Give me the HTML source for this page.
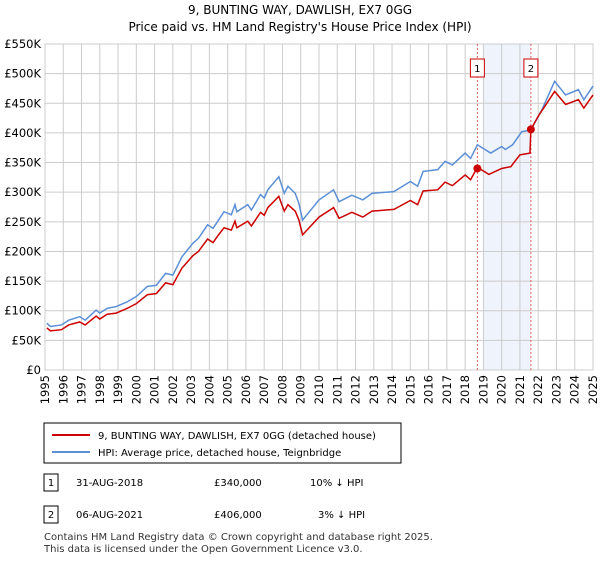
<!DOCTYPE html>
<html><head><meta charset="utf-8"><style>
body{margin:0;background:#fff;font-family:"Liberation Sans","DejaVu Sans",sans-serif;}
svg text{font-family:"DejaVu Sans","Liberation Sans",sans-serif;}
</style></head><body>
<svg width="600" height="560" viewBox="0 0 600 560" xmlns="http://www.w3.org/2000/svg">
<text x="300" y="14" text-anchor="middle" font-size="12" fill="#000">9, BUNTING WAY, DAWLISH, EX7 0GG</text>
<text x="300" y="31" text-anchor="middle" font-size="12" fill="#000">Price paid vs. HM Land Registry's House Price Index (HPI)</text>
<g id="plot"></g>
<g>
<rect x="44" y="423" width="357" height="40" fill="#fff" stroke="#000" stroke-width="1"/>
<line x1="52" y1="435" x2="90" y2="435" stroke="#cc0000" stroke-width="2"/>
<text x="98" y="439" font-size="10">9, BUNTING WAY, DAWLISH, EX7 0GG (detached house)</text>
<line x1="52" y1="452" x2="90" y2="452" stroke="#5b8fd6" stroke-width="2"/>
<text x="98" y="456" font-size="10">HPI: Average price, detached house, Teignbridge</text>
</g>
<g>
<rect x="44" y="474" width="14" height="17" fill="#fff" stroke="#000"/>
<text x="51" y="486" font-size="10" text-anchor="middle">1</text>
<text x="76" y="486" font-size="10">31-AUG-2018</text>
<text x="214" y="486" font-size="10">£340,000</text>
<text x="310" y="486" font-size="10">10% ↓ HPI</text>
<rect x="44" y="506" width="14" height="17" fill="#fff" stroke="#000"/>
<text x="51" y="518" font-size="10" text-anchor="middle">2</text>
<text x="76" y="518" font-size="10">06-AUG-2021</text>
<text x="214" y="518" font-size="10">£406,000</text>
<text x="318" y="518" font-size="10">3% ↓ HPI</text>
</g>
<text x="44" y="540" font-size="10" fill="#333">Contains HM Land Registry data © Crown copyright and database right 2025.</text>
<text x="44" y="552" font-size="10" fill="#333">This data is licensed under the Open Government Licence v3.0.</text>
</svg>
<script>
const hpiYears=[1995.1,1995.3,1995.9,1996.3,1996.9,1997.2,1997.8,1998.0,1998.4,1998.9,1999.5,2000.0,2000.6,2001.1,2001.6,2002.0,2002.5,2003.1,2003.4,2003.9,2004.2,2004.5,2004.8,2005.2,2005.4,2005.5,2006.1,2006.3,2006.8,2007.0,2007.2,2007.8,2008.1,2008.3,2008.7,2008.9,2009.1,2010.0,2010.8,2011.1,2011.8,2012.4,2012.9,2014.1,2015.0,2015.4,2015.7,2016.5,2016.9,2017.3,2018.0,2018.3,2018.67,2019.4,2020.0,2020.2,2020.6,2021.1,2021.6,2022.2,2022.9,2023.5,2024.2,2024.5,2025.0];
const hpiValues=[79,73.5,76,84,90,84,101,96,104,107,115,124,141,143,163,160,191,214,222,245,239,253,267,262,279,267,279,270,296,290,304,326,298,310,298,281,253,287,304,284,295,287,298,301,318,310,335,338,352,346,366,357,380,366,377,372,380,402,405,439,487,464,473,456,479];
const priceYears=[1995.1,1995.3,1995.9,1996.3,1996.9,1997.2,1997.8,1998.0,1998.4,1998.9,1999.5,2000.0,2000.6,2001.1,2001.6,2002.0,2002.5,2003.1,2003.4,2003.9,2004.2,2004.5,2004.8,2005.2,2005.4,2005.5,2006.1,2006.3,2006.8,2007.0,2007.2,2007.8,2008.1,2008.3,2008.7,2008.9,2009.1,2010.0,2010.8,2011.1,2011.8,2012.4,2012.9,2014.1,2015.0,2015.4,2015.7,2016.5,2016.9,2017.3,2018.0,2018.3,2018.67,2019.3,2020.0,2020.5,2021.0,2021.55,2021.6,2022.0,2022.9,2023.5,2024.2,2024.5,2025.0];
const priceValues=[71,66,68,76,81,76,91,86,94,96,104,112,127,129,147,144,172,193,200,221,215,228,240,236,251,240,251,243,266,261,274,293,268,279,268,253,228,258,274,256,266,258,268,271,286,279,302,304,317,311,329,321,342,330,340,343,363,366,406,428,470,448,456,442,464];
const saleYears=[2018.67,2021.6];
const saleValues=[340,406];
const saleLabels=["1","2"];
const shadeStart=2019.0;
const yTicks=[0,50,100,150,200,250,300,350,400,450,500,550];
const yTickLabels=["£0","£50K","£100K","£150K","£200K","£250K","£300K","£350K","£400K","£450K","£500K","£550K"];
const xTicks=[1995,1996,1997,1998,1999,2000,2001,2002,2003,2004,2005,2006,2007,2008,2009,2010,2011,2012,2013,2014,2015,2016,2017,2018,2019,2020,2021,2022,2023,2024,2025];

const L=45,R=593,T=44,B=370;
const xs=y=>L+(y-1995)/30*(R-L);
const ys=v=>B-v/550*(B-T);
const NS="http://www.w3.org/2000/svg";
const g=document.getElementById('plot');
function mk(t,a){const e=document.createElementNS(NS,t);for(const k in a)e.setAttribute(k,a[k]);g.appendChild(e);return e;}
const shade=mk('rect',{x:xs(shadeStart),y:T,width:xs(saleYears[1])-xs(shadeStart),height:B-T,fill:'#eef3fc'});


yTicks.forEach((t,i)=>{
 const l=mk('line',{x1:L,x2:R,y1:ys(t),y2:ys(t),stroke:'#cccccc','stroke-width':1});
 
 
 const tx=mk('text',{x:L-4,y:ys(t)+4,'text-anchor':'end','font-size':11.5,fill:'#000'});
 tx.textContent=yTickLabels[i];
 
 
});
xTicks.forEach(t=>{
 const l=mk('line',{x1:xs(t),x2:xs(t),y1:T,y2:B,stroke:'#cccccc','stroke-width':1});
 
 
 const tx=mk('text',{x:0,y:0,'text-anchor':'end','font-size':11.5,fill:'#000',transform:`translate(${xs(t)+4},375) rotate(-90)`});
 tx.textContent=t;
 
 
});
const fr=mk('rect',{x:L,y:T,width:R-L,height:B-T,fill:'none',stroke:'#cccccc'});


saleYears.forEach((y,i)=>{
 const l=mk('line',{x1:xs(y),x2:xs(y),y1:T,y2:B,stroke:'#e06060','stroke-width':1,'stroke-dasharray':'2,2'});
 
 
});
const hp=mk('polyline',{points:hpiYears.map((y,i)=>xs(y)+','+ys(hpiValues[i])).join(' '),fill:'none',stroke:'#5b8fd6','stroke-width':1.5});


const pp=mk('polyline',{points:priceYears.map((y,i)=>xs(y)+','+ys(priceValues[i])).join(' '),fill:'none',stroke:'#cc0000','stroke-width':1.5});


saleYears.forEach((y,i)=>{
 const c=mk('circle',{cx:xs(y),cy:ys(saleValues[i]),r:4,fill:'#cc0000'});
 
 
 const bx=mk('rect',{x:xs(y)-7,y:59,width:14,height:18,fill:'#fff',stroke:'#cc0000'});
 
 
 const t=mk('text',{x:xs(y),y:72,'text-anchor':'middle','font-size':10});
 t.textContent=saleLabels[i];
 
 
});
</script>
</body></html>
